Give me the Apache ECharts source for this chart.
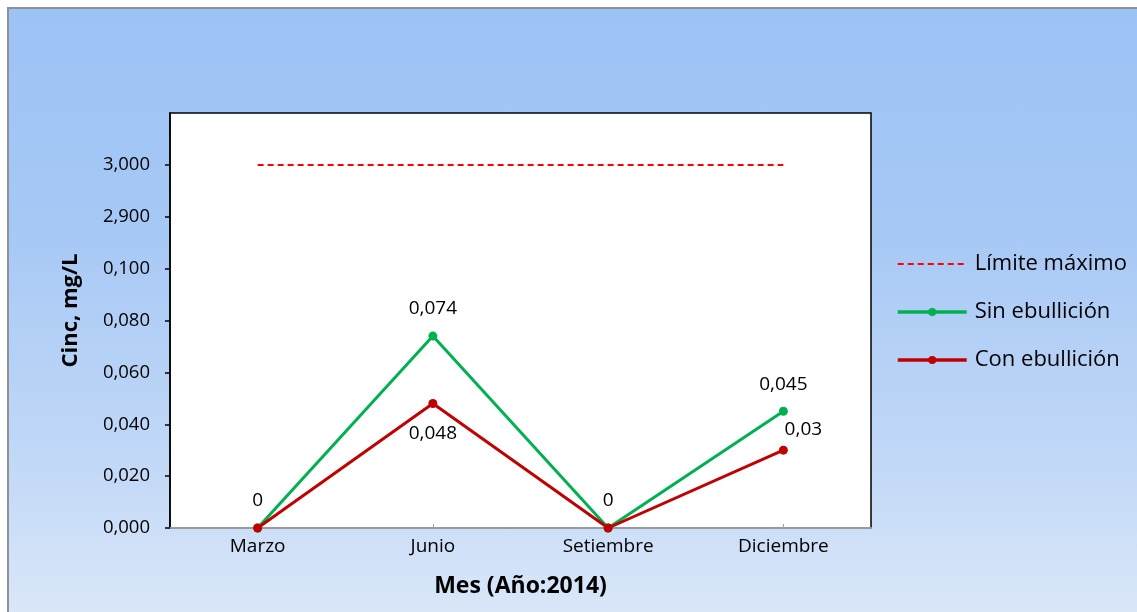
<!DOCTYPE html>
<html>
<head>
<meta charset="utf-8">
<script src="https://cdn.jsdelivr.net/npm/echarts@6/dist/echarts.min.js"></script>
<style>
  html, body { margin: 0; padding: 0; background: #ffffff; overflow: hidden; }
  #bg {
    position: absolute; left: 7px; top: 7px; width: 1140px; height: 620px;
    border: 2px solid #8e9296; box-sizing: border-box;
    background: linear-gradient(to bottom, #9cc3f5 0%, #a6c8f5 35%, #c3d9f7 75%, #dce8f9 100%);
  }
  #chart { position: absolute; left: 0; top: 0; width: 1137px; height: 612px; }
</style>
</head>
<body>
<div id="bg"></div>
<div id="chart"></div>
<script>
// Zinc concentration (mg/L) per sampling month, 2014
const months = ['Marzo', 'Junio', 'Setiembre', 'Diciembre'];
const limiteMaximo = [3, 3, 3, 3];
const sinEbullicion = [0, 0.074, 0, 0.045];
const conEbullicion = [0, 0.048, 0, 0.03];
// Tick values of the broken y axis (0 – 0,100, then 2,900 – 3,000)
const yTicks = [0, 0.02, 0.04, 0.06, 0.08, 0.1, 2.9, 3.0];

// Broken-axis scale: low range kept as is, the 2,9–3,0 band squeezed into two steps
function toAxis(v) {
  return v <= 0.1 ? v : 0.12 + (v - 2.9) * 0.2;
}
function fmtComma(v, digits) {
  const s = digits == null ? String(v) : v.toFixed(digits);
  return s.replace('.', ',');
}

const FONT = 'Open Sans';
const chart = echarts.init(document.getElementById('chart'), null, { renderer: 'canvas' });

chart.setOption({
  backgroundColor: 'transparent',
  animation: false,
  textStyle: { fontFamily: FONT, color: '#000' },
  grid: {
    left: 170, right: 266, top: 113, bottom: 84,
    show: true, backgroundColor: '#ffffff', borderColor: '#000000', borderWidth: 1.5
  },
  legend: {
    orient: 'vertical',
    left: 896, top: 252, padding: 0,
    itemWidth: 69, itemHeight: 10, itemGap: 24,
    textStyle: { fontFamily: FONT, fontSize: 22, color: '#000', lineHeight: 24, padding: [0, 0, 0, 3] },
    data: [
      { name: 'Límite máximo', itemStyle: { opacity: 0 }, lineStyle: { width: 2 } },
      { name: 'Sin ebullición', lineStyle: { width: 3.5 } },
      { name: 'Con ebullición', lineStyle: { width: 3.5 } }
    ]
  },
  xAxis: {
    type: 'category',
    data: months,
    boundaryGap: true,
    name: 'Mes (Año:2014)',
    nameLocation: 'middle',
    nameGap: 47,
    nameTextStyle: { fontFamily: FONT, fontSize: 23, fontWeight: 'bold', color: '#000' },
    axisLine: { lineStyle: { color: '#9a9a9a', width: 2 } },
    axisTick: { show: true, inside: true, length: 4, alignWithLabel: true, lineStyle: { color: '#a0a0a0' } },
    axisLabel: { fontFamily: FONT, fontSize: 19, color: '#000', margin: 9 }
  },
  yAxis: {
    type: 'value',
    min: 0, max: 0.16, interval: 0.02,
    name: 'Cinc, mg/L',
    nameLocation: 'middle',
    nameGap: 88,
    nameRotate: 90,
    nameTextStyle: { fontFamily: FONT, fontSize: 22, fontWeight: 'bold', color: '#000', padding: [0, 0, 0, 20] },
    splitLine: { show: false },
    axisLine: { show: true, lineStyle: { color: '#000', width: 1.5 } },
    axisTick: {
      show: true, length: 5, lineStyle: { color: '#000', width: 1.5 },
      customValues: yTicks.map(toAxis)
    },
    axisLabel: {
      fontFamily: FONT, fontSize: 18.5, color: '#000', margin: 20,
      customValues: yTicks.map(toAxis),
      formatter: function (val) {
        for (let i = 0; i < yTicks.length; i++) {
          if (Math.abs(toAxis(yTicks[i]) - val) < 1e-6) return fmtComma(yTicks[i], 3);
        }
        return '';
      }
    }
  },
  series: [
    {
      name: 'Límite máximo',
      type: 'line',
      data: limiteMaximo.map(toAxis),
      symbol: 'none',
      lineStyle: { color: '#ff0000', width: 2, type: [6, 4] },
      itemStyle: { color: '#ff0000' }
    },
    {
      name: 'Sin ebullición',
      type: 'line',
      data: sinEbullicion.map(toAxis),
      symbol: 'circle', symbolSize: 9,
      lineStyle: { color: '#00b050', width: 3 },
      itemStyle: { color: '#00b050' },
      label: {
        show: true, position: 'top', distance: 13,
        fontFamily: FONT, fontSize: 19, color: '#000',
        formatter: p => fmtComma(sinEbullicion[p.dataIndex])
      }
    },
    {
      name: 'Con ebullición',
      type: 'line',
      data: conEbullicion.map((v, i) => ({
        value: toAxis(v),
        label: i === 1
          ? { position: 'bottom', distance: 16 }
          : { position: 'top', distance: 7, offset: [20, 0] }
      })),
      symbol: 'circle', symbolSize: 9,
      lineStyle: { color: '#c00000', width: 3 },
      itemStyle: { color: '#c00000' },
      label: {
        show: true,
        fontFamily: FONT, fontSize: 19, color: '#000',
        formatter: p => conEbullicion[p.dataIndex] === 0 ? '' : fmtComma(conEbullicion[p.dataIndex])
      }
    }
  ]
});
</script>
</body>
</html>
